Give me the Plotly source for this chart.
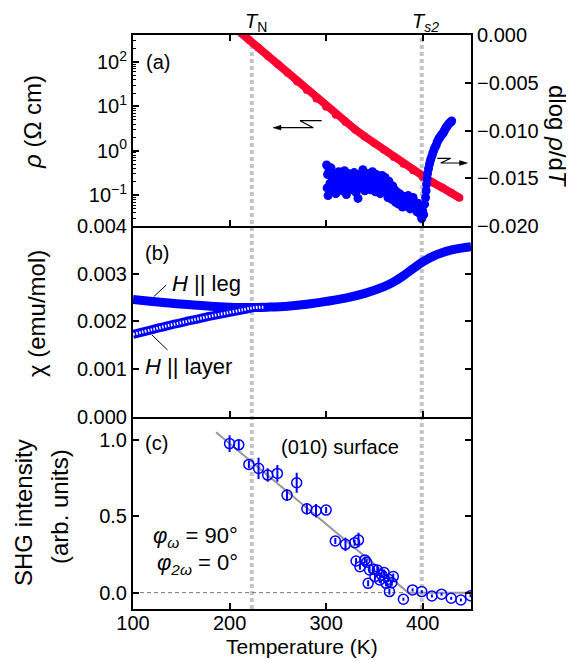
import plotly.graph_objects as go

# ---------------- data ----------------
# (a) resistivity rho (Ohm cm) vs T (K)
rho_T = [212, 220, 230, 240, 250, 260, 270, 280, 290, 300, 310, 320, 330, 340, 350,
         360, 370, 380, 390, 400, 405, 410, 420, 430, 438]
rho_val = [447, 316, 209, 135, 89, 57.5, 36.3, 23.4, 15.1, 9.77, 6.46, 4.47, 3.02, 2.09, 1.48,
           1.05, 0.724, 0.513, 0.363, 0.257, 0.224, 0.195, 0.148, 0.110, 0.0871]

# (a) dlog rho / dT (right axis)
dl_T = [300.5, 301, 301.5, 302, 303, 304, 305, 306, 307, 308, 309, 310, 311, 312, 313, 314, 315,
        316, 317, 318, 319, 320, 321, 322, 323, 324, 325, 326, 327, 328, 329, 330, 331, 332, 333,
        334, 335, 336, 337, 338, 339, 340, 341, 342, 343, 344, 345, 346, 347, 348, 349, 350, 351,
        352, 353, 354, 355, 356, 357, 358, 359, 360, 361, 362, 363, 364, 365, 366, 367, 368, 369,
        370, 371, 372, 373, 374, 375, 376, 377, 378, 379, 380, 381, 382, 383, 384, 385, 386, 387,
        388, 389, 390, 391, 392, 393, 394, 395, 396, 397, 398, 399, 400, 401, 402, 403, 403.5, 404,
        404.5, 405, 406, 407, 408, 409, 410, 411, 412, 413, 414, 415, 416, 417, 418, 419, 420, 421,
        422, 423, 424, 425, 426, 427, 428, 429, 430]
dl_val = [-0.0136, -0.0160, -0.0146, -0.0168, -0.0141, -0.0155, -0.0139, -0.0162, -0.0150, -0.0145,
          -0.0158, -0.0166, -0.0148, -0.0154, -0.0143, -0.0160, -0.0151, -0.0147, -0.0163, -0.0155,
          -0.0142, -0.0158, -0.0167, -0.0150, -0.0145, -0.0160, -0.0153, -0.0148, -0.0162, -0.0157,
          -0.0144, -0.0158, -0.0165, -0.0150, -0.0171, -0.0154, -0.0146, -0.0160, -0.0152, -0.0141,
          -0.0156, -0.0163, -0.0149, -0.0155, -0.0145, -0.0159, -0.0152, -0.0162, -0.0148, -0.0143,
          -0.0157, -0.0151, -0.0164, -0.0146, -0.0155, -0.0160, -0.0150, -0.0166, -0.0154, -0.0147,
          -0.0161, -0.0156, -0.0149, -0.0163, -0.0158, -0.0170, -0.0153, -0.0165, -0.0160, -0.0172,
          -0.0158, -0.0167, -0.0162, -0.0175, -0.0164, -0.0170, -0.0177, -0.0166, -0.0173, -0.0168,
          -0.0180, -0.0171, -0.0176, -0.0169, -0.0179, -0.0173, -0.0168, -0.0177, -0.0182, -0.0172,
          -0.0176, -0.0170, -0.0181, -0.0175, -0.0179, -0.0185, -0.0176, -0.0182, -0.0187, -0.0180,
          -0.0192, -0.0184, -0.0188, -0.0177, -0.0170, -0.0163, -0.0156, -0.0150, -0.0145, -0.0140,
          -0.0135, -0.0131, -0.0128, -0.0125, -0.0122, -0.0119, -0.0117, -0.0115, -0.0112, -0.0110,
          -0.0108, -0.0107, -0.0105, -0.0104, -0.0103, -0.0101, -0.0099, -0.0097, -0.0096, -0.0094,
          -0.0093, -0.0092, -0.0091, -0.0090]

# (b) susceptibility chi (emu/mol)
leg_T = [100, 120, 140, 160, 180, 200, 220, 240, 260, 280, 300, 320, 340, 360, 370, 380, 390,
         400, 410, 420, 430, 440, 450]
leg_val = [0.00246, 0.00242, 0.00238, 0.00235, 0.00232, 0.00230, 0.00229, 0.00230, 0.00232,
           0.00236, 0.00242, 0.00249, 0.00259, 0.00273, 0.00283, 0.00296, 0.00311, 0.00325,
           0.00336, 0.00344, 0.00350, 0.00354, 0.00357]
layer_T = [100, 120, 140, 160, 180, 200, 215, 225, 235]
layer_val = [0.00173, 0.00183, 0.00193, 0.00202, 0.00211, 0.00219, 0.00225, 0.00229, 0.00230]

# (c) SHG intensity (arb. units)
shg_T = [200, 209.5, 220, 230, 239.5, 249.5, 259.5, 269.5, 280, 289.5, 300, 309.5, 320, 329.5,
         333.5, 331, 335, 340, 342, 343.5, 345, 349, 350.5, 353, 355.5, 357.5, 360, 362, 364.5,
         365.5, 368, 369.5, 380, 389.5, 399, 409.5, 419.5, 429.5, 439.5, 449.5]
shg_val = [0.975, 0.967, 0.839, 0.813, 0.769, 0.780, 0.638, 0.719, 0.549, 0.536, 0.540, 0.338,
           0.316, 0.327, 0.344, 0.207, 0.170, 0.214, 0.199, 0.061, 0.148, 0.153, 0.105, 0.148,
           0.083, 0.116, 0.131, 0.061, 0.088, 0.007, 0.065, 0.105, -0.043, 0.018, 0.007, -0.022,
           -0.010, -0.037, -0.048, -0.020]
shg_err = [0.055, 0.033, 0.025, 0.07, 0.044, 0.055, 0.038, 0.065, 0.038, 0.044, 0.02, 0.02,
           0.044, 0.02, 0.048, 0.02, 0.02, 0.02, 0.02, 0.02, 0.02, 0.02, 0.02, 0.02, 0.02, 0.02,
           0.02, 0.02, 0.02, 0.02, 0.02, 0.02, 0.01, 0.01, 0.01, 0.01, 0.01, 0.01, 0.01, 0.01]
fit_T = [186, 385, 450]
fit_val = [1.05, 0.0, 0.0]

T_N = 223
T_S2 = 399

x_ticks = [100, 200, 300, 400]
rho_ticks = [0.1, 1, 10, 100]
rho_ticktext = ["10<sup>\u22121</sup>", "10<sup>0</sup>", "10<sup>1</sup>", "10<sup>2</sup>"]
rho_minor = [m * 10.0 ** e for e in range(-2, 3) for m in range(2, 10)]
dl_ticks = [0.0, -0.005, -0.010, -0.015, -0.020]
chi_ticks = [0.0, 0.001, 0.002, 0.003, 0.004]
shg_ticks = [0.0, 0.5, 1.0]

# ---------------- styling ----------------
RED = "#ff0030"
BLUE = "#0000ff"
FONT = "Liberation Sans, Arial, sans-serif"

# The page body has an 8px margin, so the figure is 8px smaller and offset.
OFF = 8
FIG_W, FIG_H = 574 - OFF, 661 - OFF
# plot area in reference-window pixels
L, R, TOP, BOT = 133, 471, 35, 609
def PX(x):
    return (x - L) / (R - L)
def PY(y):
    return (BOT - y) / (BOT - TOP)

fig = go.Figure()

# panel (a)
fig.add_trace(go.Scatter(x=rho_T, y=rho_val, xaxis="x", yaxis="y", mode="lines+markers",
                         line=dict(color=RED, width=8), marker=dict(color=RED, size=8),
                         cliponaxis=True, hoverinfo="skip"))
fig.add_trace(go.Scatter(x=dl_T, y=dl_val, xaxis="x", yaxis="y2", mode="markers",
                         marker=dict(color=BLUE, size=9), hoverinfo="skip"))

# panel (b)
fig.add_trace(go.Scatter(x=leg_T, y=leg_val, xaxis="x2", yaxis="y3", mode="lines",
                         line=dict(color=BLUE, width=9, shape="spline"), hoverinfo="skip"))
fig.add_trace(go.Scatter(x=layer_T, y=layer_val, xaxis="x2", yaxis="y3", mode="lines",
                         line=dict(color=BLUE, width=9, shape="spline"), hoverinfo="skip"))
fig.add_trace(go.Scatter(x=layer_T, y=layer_val, xaxis="x2", yaxis="y3", mode="lines",
                         line=dict(color="white", width=3, dash="1.5px,1.5px", shape="spline"),
                         hoverinfo="skip"))

# panel (c)
fig.add_trace(go.Scatter(x=fit_T, y=fit_val, xaxis="x3", yaxis="y4", mode="lines",
                         line=dict(color="#999999", width=2), hoverinfo="skip"))
fig.add_trace(go.Scatter(x=shg_T, y=shg_val, xaxis="x3", yaxis="y4", mode="markers",
                         marker=dict(symbol="circle-open", color=BLUE, size=10, line=dict(width=1.5)),
                         error_y=dict(type="data", array=shg_err, color=BLUE, thickness=2, width=0),
                         hoverinfo="skip"))

common = dict(showline=True, linecolor="black", linewidth=2, ticks="inside", ticklen=6,
              tickwidth=1.5, tickcolor="black", showgrid=False, zeroline=False,
              automargin=False, tickfont=dict(size=20, family=FONT, color="black"))

fig.update_layout(
    width=FIG_W, height=FIG_H,
    margin=dict(l=L - OFF, r=574 - R, t=TOP - OFF, b=661 - BOT),
    plot_bgcolor="rgba(0,0,0,0)", paper_bgcolor="white",
    showlegend=False,
    font=dict(family=FONT, size=20, color="black"),
    xaxis=dict(domain=[0, 1], range=[100, 450], anchor="y", tickvals=x_ticks,
               showticklabels=False, mirror="ticks", **common),
    xaxis2=dict(domain=[0, 1], range=[100, 450], anchor="y3", tickvals=x_ticks,
                showticklabels=False, mirror=False, matches="x", **common),
    xaxis3=dict(domain=[0, 1], range=[100, 450], anchor="y4", tickvals=x_ticks,
                mirror=False, matches="x", ticklabelstandoff=-5, **common),
    yaxis=dict(domain=[0.667, 1], type="log", range=[-1.698, 2.608], anchor="x",
               tickvals=rho_ticks, ticktext=rho_ticktext,
               minor=dict(tickvals=rho_minor, ticks="inside", ticklen=3, tickwidth=1,
                          tickcolor="black", showgrid=False),
               **common),
    yaxis2=dict(overlaying="y", side="right", anchor="x", range=[-0.020, 0.0],
                tickvals=dl_ticks, tickformat=".3f", **common),
    yaxis3=dict(domain=[0.335, 0.667], range=[0, 0.004], anchor="x2", tickvals=chi_ticks,
                tickformat=".3f", mirror="ticks", **common),
    yaxis4=dict(domain=[0, 0.335], range=[-0.107, 1.151], anchor="x3", tickvals=shg_ticks,
                tickformat=".1f", mirror="ticks", **common),
)

shapes = []
for tx in (T_N, T_S2):
    shapes.append(dict(type="line", xref="x", yref="paper", x0=tx, x1=tx, y0=0, y1=1,
                       line=dict(color="#c4c4c4", width=4, dash="4px,3px"), layer="below"))
shapes.append(dict(type="line", xref="x3 domain", yref="y4", x0=0, x1=1, y0=0, y1=0,
                   line=dict(color="#777777", width=1, dash="4px,3px"), layer="below"))

def path(pts, close=False):
    s = "M " + " L ".join(f"{PX(a):.5f},{PY(b):.5f}" for a, b in pts)
    return s + (" Z" if close else "")

# left zig-zag arrow (rho axis)
shapes.append(dict(type="path", xref="paper", yref="paper",
                   path=path([(321.7, 120.7), (300, 120.7), (313.3, 127.7), (279, 127.7)]),
                   line=dict(color="black", width=1.2)))
shapes.append(dict(type="path", xref="paper", yref="paper",
                   path=path([(273, 127.7), (281, 125.3), (281, 130.1)], close=True),
                   fillcolor="black", line=dict(color="black", width=0.5)))
# right zig-zag arrow (dlog axis)
shapes.append(dict(type="path", xref="paper", yref="paper",
                   path=path([(437.3, 158.3), (450.7, 158.3), (440.7, 163), (461, 163)]),
                   line=dict(color="black", width=1.2)))
shapes.append(dict(type="path", xref="paper", yref="paper",
                   path=path([(467.5, 163), (459.5, 160.6), (459.5, 165.4)], close=True),
                   fillcolor="black", line=dict(color="black", width=0.5)))
# pointer lines for H labels
shapes.append(dict(type="line", xref="paper", yref="paper", x0=PX(153.7), y0=PY(296.7),
                   x1=PX(166.3), y1=PY(285), line=dict(color="black", width=1)))
shapes.append(dict(type="line", xref="paper", yref="paper", x0=PX(152), y0=PY(335),
                   x1=PX(167.5), y1=PY(350), line=dict(color="black", width=1)))
fig.update_layout(shapes=shapes)

def ann(text, x, y, size=20, xanchor="center", yanchor="middle", angle=0):
    return dict(text=text, x=PX(x), y=PY(y), xref="paper", yref="paper", showarrow=False,
                xanchor=xanchor, yanchor=yanchor, textangle=angle,
                font=dict(size=size, family=FONT, color="black"))

annotations = [
    ann("(a)", 144, 62, xanchor="left"),
    ann("(b)", 143, 253, xanchor="left"),
    ann("(c)", 143, 443, xanchor="left"),
    ann("<i>T</i><sub>N</sub>", 256, 22, size=20),
    ann("<i>T<sub>s2</sub></i>", 425, 22, size=20),
    ann("dlog <i>\u03c1</i>/d<i>T</i>", 558, 136, size=24, angle=90),
    ann("<i>\u03c1</i> (\u03a9 cm)", 33, 122, size=24, angle=-90),
    ann("\u03c7 (emu/mol)", 36, 313, size=24, angle=-90),
    ann("SHG intensity", 23, 513, size=24, angle=-90),
    ann("(arb. units)", 59, 507, size=24, angle=-90),
    ann("Temperature (K)", 302, 647, size=21),
    ann("<i>H</i> || leg", 170, 283, size=22, xanchor="left"),
    ann("<i>H</i> || layer", 143, 366, size=22, xanchor="left"),
    ann("(010) surface", 340, 447, size=20),
    ann("<i>\u03c6<sub>\u03c9</sub></i> = 90\u00b0", 240, 537, size=22, xanchor="right"),
    ann("<i>\u03c6<sub>2\u03c9</sub></i> = 0\u00b0", 240, 564, size=22, xanchor="right"),
]
fig.update_layout(annotations=annotations)

fig.write_html("out.html")
